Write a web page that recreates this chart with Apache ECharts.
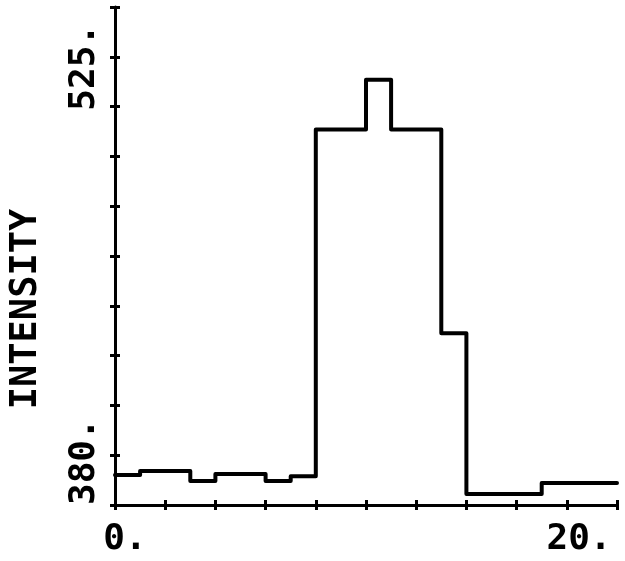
<!DOCTYPE html>
<html>
<head>
<meta charset="utf-8">
<script src="https://cdn.jsdelivr.net/npm/echarts@6/dist/echarts.min.js"></script>
<style>html,body{margin:0;padding:0;background:#fff;}#c{width:625px;height:561px;}</style>
</head>
<body>
<div id="c"></div>
<script>
// bin start positions (width 1) and intensity values
var binStart = [0,1,2,3,4,5,6,7,8,9,10,11,12,13,14,15,16,17,18,19];
var intensity = [388.7,389.9,389.9,387.0,389.0,389.0,387.0,388.4,489.3,489.3,503.8,489.3,489.3,430.0,383.2,383.2,383.2,386.4,386.4,386.4];
var xLabels = [0, 20];
var yLabels = [380, 525];
var yTitle = 'INTENSITY';

var pts = binStart.map(function(x, i){ return [x, intensity[i]]; });
pts.push([binStart[binStart.length-1] + 1, intensity[intensity.length-1]]);

var FONT = 'DejaVu Sans Mono';
var chart = echarts.init(document.getElementById('c'), null, {renderer:'canvas'});
var axisLine = {show:true, lineStyle:{color:'#000', width:3}};
var tickStyle = {color:'#000', width:3};
var lblFont = {color:'#000', fontFamily:FONT, fontWeight:'bold', fontSize:36};
chart.setOption({
  backgroundColor:'#fff',
  animation:false,
  grid:{left:107, right:8, top:7, bottom:56},
  xAxis:[{
    type:'value', min:0, max:20, interval:2, position:'bottom',
    axisLine:axisLine,
    axisTick:{show:true, length:5, lineStyle:tickStyle},
    splitLine:{show:false},
    axisLabel:{
      show:true, margin:17, color:'#000', fontFamily:FONT, fontWeight:'bold', fontSize:36,
      rich:{
        lo:Object.assign({padding:[0,0,0,20]}, lblFont),
        hi:Object.assign({padding:[0,76,0,0]}, lblFont)
      },
      formatter:function(v){
        if (v === xLabels[0]) return '{lo|' + v + '.}';
        if (v === xLabels[1]) return '{hi|' + v + '.}';
        return '';
      }
    }
  },{
    type:'value', min:0, max:20, interval:2, position:'bottom', offset:0,
    axisLine:{show:false},
    axisTick:{show:true, inside:true, length:5, lineStyle:tickStyle},
    axisLabel:{show:false}, splitLine:{show:false}
  }],
  yAxis:[{
    type:'value', min:380, max:525, interval:14.5, position:'left',
    axisLine:axisLine,
    axisTick:{show:true, length:5, lineStyle:tickStyle},
    splitLine:{show:false},
    axisLabel:{
      show:true, margin:12, rotate:90, color:'#000', fontFamily:FONT, fontWeight:'bold', fontSize:36,
      alignMinLabel:'left', alignMaxLabel:'right',
      rich:{
        lo:Object.assign({padding:[0,0,0,0]}, lblFont),
        hi:Object.assign({padding:[0,17,0,0]}, lblFont)
      },
      formatter:function(v){
        if (v === yLabels[0]) return '{lo|' + v + '.}';
        if (v === yLabels[1]) return '{hi|' + v + '.}';
        return '';
      }
    },
    name:yTitle, nameLocation:'middle', nameRotate:90, nameGap:70,
    nameTextStyle:{color:'#000', fontFamily:FONT, fontWeight:'bold', fontSize:37, padding:[0,106,0,0]}
  },{
    type:'value', min:380, max:525, interval:14.5, position:'left', offset:0,
    axisLine:{show:false},
    axisTick:{show:true, inside:true, length:5, lineStyle:tickStyle},
    axisLabel:{show:false}, splitLine:{show:false}
  }],
  series:[{
    type:'line', step:'end', data:pts, showSymbol:false, symbol:'none',
    xAxisIndex:0, yAxisIndex:0,
    lineStyle:{color:'#000', width:4, join:'round', cap:'round'},
    clip:false
  }]
});
</script>
</body>
</html>
